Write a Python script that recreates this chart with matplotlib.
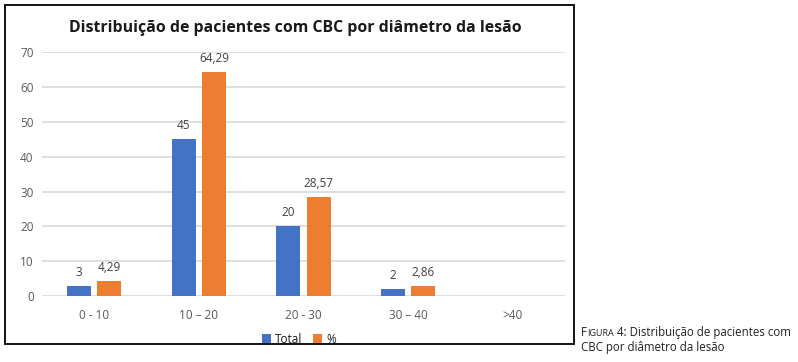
import numpy as np
import matplotlib.pyplot as plt
from matplotlib.patches import Rectangle

categories = ['0 - 10', '10 – 20', '20 - 30', '30 – 40', '>40']
total = [3, 45, 20, 2, np.nan]
percent = [4.29, 64.29, 28.57, 2.86, np.nan]
total_labels = ['3', '45', '20', '2', '']
percent_labels = ['4,29', '64,29', '28,57', '2,86', '']

blue = '#4472C4'
orange = '#ED7D31'
font = ['Open Sans', 'DejaVu Sans']
plt.rcParams['font.family'] = font

fig = plt.figure(figsize=(7.98, 3.62), dpi=100)
ax = fig.add_axes([0.0526, 0.182, 0.6554, 0.674])

x = np.arange(len(categories))
w = 0.23
off = 0.145
b1 = ax.bar(x - off, total, w, color=blue, label='Total')
b2 = ax.bar(x + off, percent, w, color=orange, label='%')

for bars, labels in ((b1, total_labels), (b2, percent_labels)):
    for rect, lab in zip(bars, labels):
        if lab:
            ax.annotate(lab, (rect.get_x() + rect.get_width() / 2, rect.get_height()),
                        xytext=(0, 5), textcoords='offset points', ha='center',
                        va='bottom', fontsize=8.5, color='#404040')

ax.set_xlim(-0.5, 4.5)
ax.set_ylim(0, 70)
ax.set_yticks(range(0, 71, 10))
ax.set_xticks(x)
ax.set_xticklabels(categories)
ax.yaxis.grid(True, color='#D9D9D9', linewidth=1.2)
ax.set_axisbelow(True)
for s in ax.spines.values():
    s.set_visible(False)
ax.tick_params(length=0, labelsize=8.5, labelcolor='#595959')
ax.tick_params(axis='x', pad=9)
ax.tick_params(axis='y', pad=6)

fig.text(0.37, 0.923, 'Distribuição de pacientes com CBC por diâmetro da lesão',
         ha='center', va='center', fontsize=11.4, fontweight='bold', color='#1a1a1a')

leg = fig.legend(loc='center', bbox_to_anchor=(0.375, 0.063), ncol=2, frameon=False,
                 fontsize=8.5, handlelength=0.7, handleheight=0.7, handletextpad=0.4,
                 columnspacing=0.9)
for t in leg.get_texts():
    t.set_color('#1a1a1a')

fig.patches.append(Rectangle((0.0063, 0.05), 0.713, 0.936, transform=fig.transFigure,
                             fill=False, edgecolor='black', linewidth=1.3))

# caption with small caps
fig.canvas.draw()
r = fig.canvas.get_renderer()
cx, cy = 0.728, 0.072
fs = 8.3
t1 = fig.text(cx, cy, 'F', fontsize=fs, color='#222222', va='baseline')
fig.canvas.draw()
bb = t1.get_window_extent(r)
x2 = bb.x1 / fig.bbox.width
t2 = fig.text(x2, cy, 'IGURA', fontsize=6.5, color='#222222', va='baseline')
fig.canvas.draw()
bb = t2.get_window_extent(r)
x3 = bb.x1 / fig.bbox.width
fig.text(x3, cy, ' 4: Distribuição de pacientes com', fontsize=fs, color='#222222', va='baseline')
fig.text(cx, cy - 0.042, 'CBC por diâmetro da lesão', fontsize=fs, color='#222222', va='baseline')

fig.savefig('out.png', dpi=100)
